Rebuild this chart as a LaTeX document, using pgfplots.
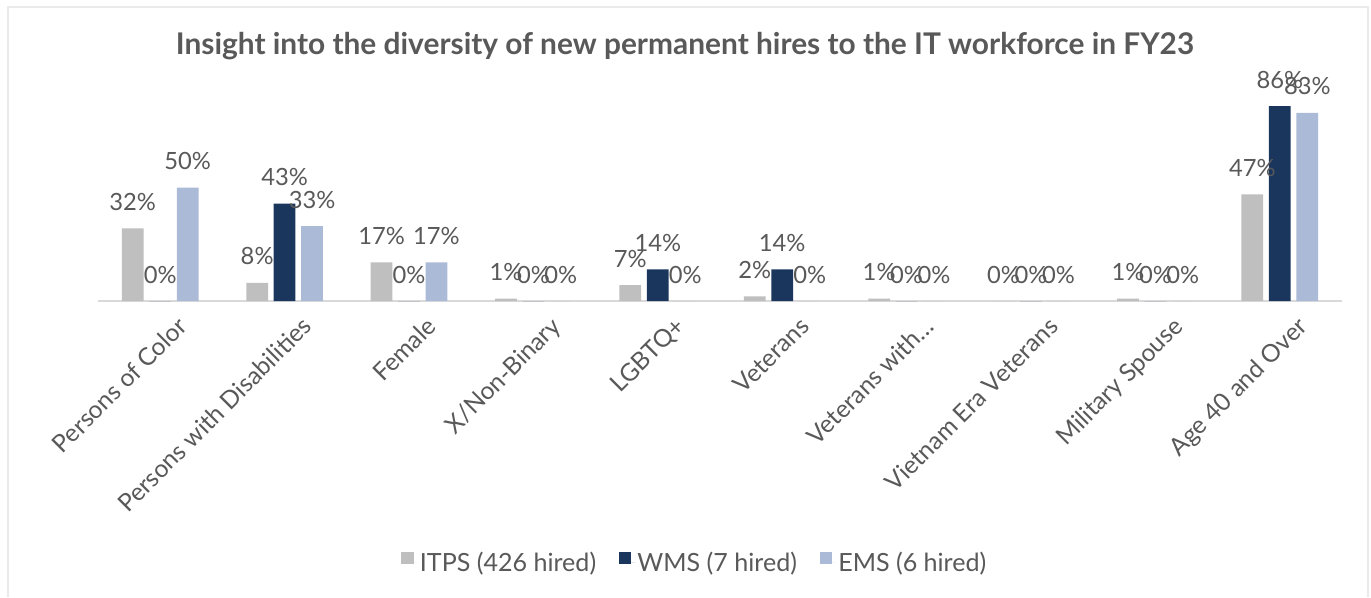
\documentclass[border=0pt]{standalone}
\usepackage{pgfplots}
\pgfplotsset{compat=1.18}
\usepackage{fontspec}
\setmainfont{Lato}
\definecolor{itps}{HTML}{BFBFBF}
\definecolor{wms}{HTML}{1A365D}
\definecolor{ems}{HTML}{ABBAD7}
\definecolor{txt}{HTML}{595959}
\definecolor{framec}{HTML}{EAEAEA}
\definecolor{axc}{HTML}{D9D9D9}
\newcommand{\lblfont}{\fontsize{17.8}{20}\selectfont}
\newcommand{\tickfont}{\fontsize{18.4}{20}\selectfont}
\newcommand{\legfont}{\fontsize{18.8}{20}\selectfont}
\begin{document}
\begin{tikzpicture}
\begin{scope}[x=0.75pt,y=0.75pt]
\path[use as bounding box] (0,0) rectangle (1371,597);
\fill[white] (0,0) rectangle (1371,597);
\draw[framec, line width=0.9pt] (8,0) -- (8,590) -- (1368,590) -- (1368,0);
\node[anchor=base, font=\bfseries\fontsize{22.4}{26}\selectfont, text=txt] at (685,542) {Insight into the diversity of new permanent hires to the IT workforce in FY23};
\end{scope}
\begin{axis}[
  at={(73.5pt,222pt)}, anchor=south west,
  width=933pt, height=153pt, scale only axis,
  xmin=-0.5, xmax=9.5, ymin=0, ymax=90,
  axis x line*=bottom, axis y line=none,
  x axis line style={axc, line width=1.5pt, -},
  clip=false,
  /pgf/number format/assume math mode=true,
  xtick={0,...,9},
  xticklabels={Persons of Color, Persons with Disabilities, Female, X/Non-Binary, LGBTQ+, Veterans, Veterans with…, Vietnam Era Veterans, Military Spouse, Age 40 and Over},
  major tick length=0pt,
  xticklabel style={rotate=45, anchor=north east, font=\tickfont, text=txt, inner sep=0pt, yshift=-16pt, xshift=1pt},
  ytick=\empty,
  ybar=4.3pt, bar width=16.3pt,
  nodes near coords={\pgfmathprintnumber{\pgfplotspointmeta}\%},
  every node near coord/.append style={anchor=base, inner sep=0pt, yshift=13.5pt, font=\lblfont, text=txt},
  legend style={at={(0.48,-1.284)}, anchor=center, draw=none, fill=none, legend columns=3, font=\legfont, text=txt,
    /tikz/every even column/.append style={column sep=15pt}},
  legend image code/.code={\fill[#1] (0pt,-1pt) rectangle (9.5pt,8.5pt); \path (0pt,0pt) -- (12pt,0pt);},
]
\addplot[draw=none, fill=itps] coordinates {(0,32) (1,8) (2,17) (3,1) (4,7) (5,2) (6,1) (7,0) (8,1) (9,47)};
\addplot[draw=none, fill=wms] coordinates {(0,0) (1,43) (2,0) (3,0) (4,14) (5,14) (6,0) (7,0) (8,0) (9,86)};
\addplot[draw=none, fill=ems] coordinates {(0,50) (1,33) (2,17) (3,0) (4,0) (5,0) (6,0) (7,0) (8,0) (9,83)};
\legend{ITPS (426 hired), WMS (7 hired), EMS (6 hired)}
\end{axis}
\end{tikzpicture}
\end{document}
